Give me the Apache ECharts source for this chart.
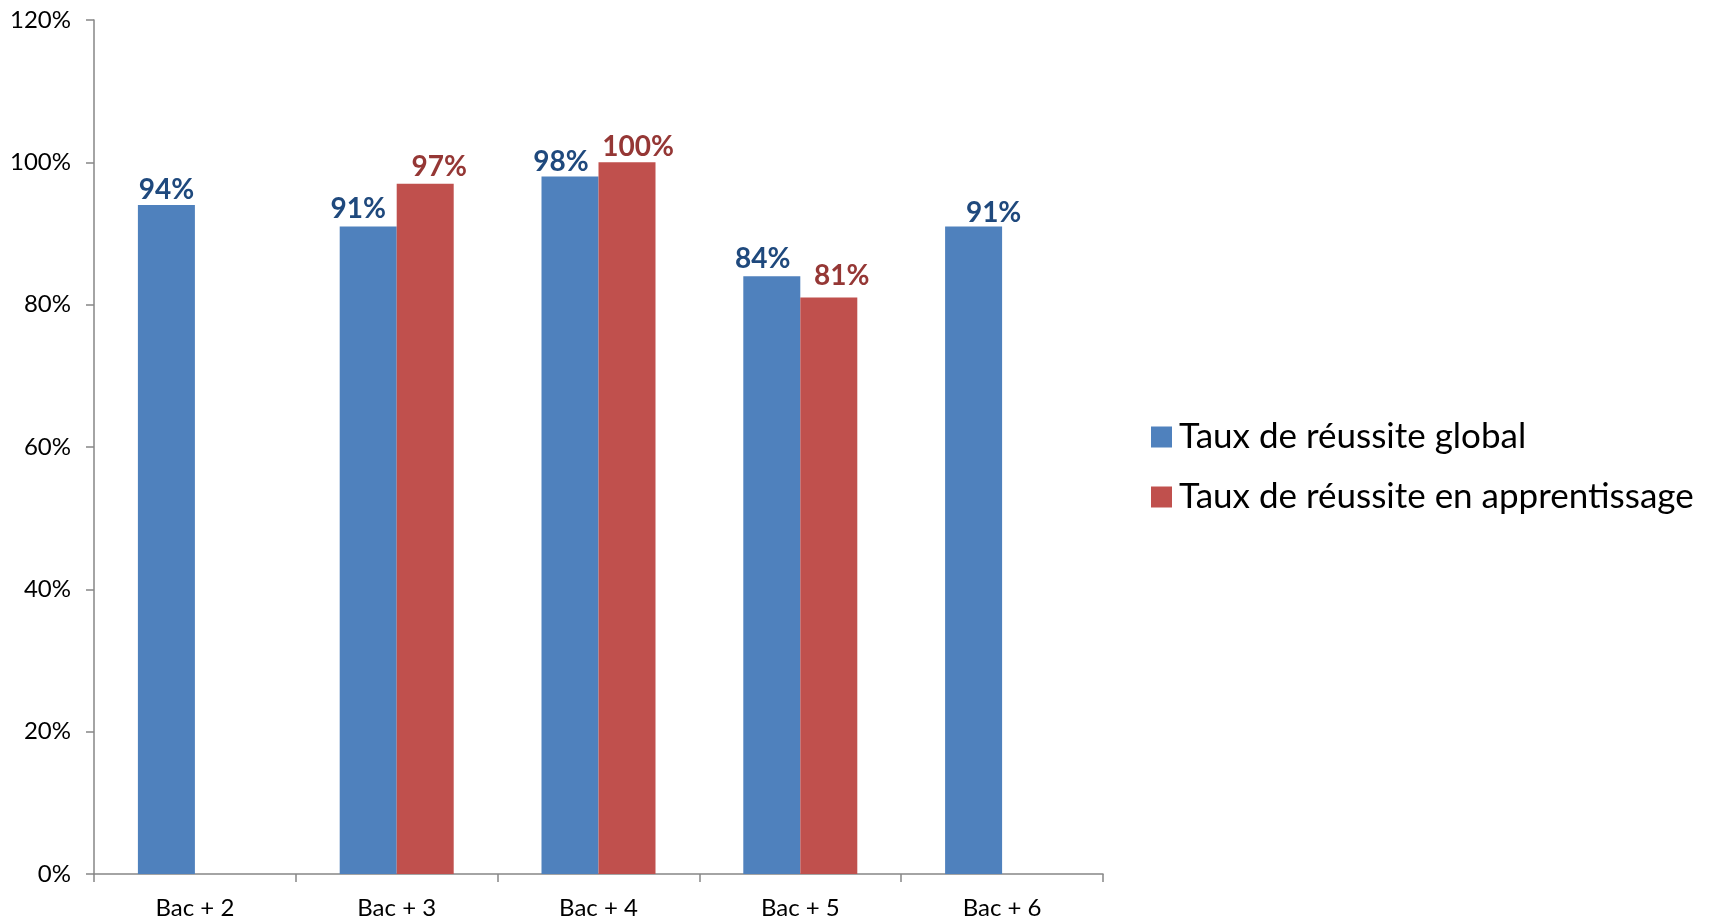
<!DOCTYPE html>
<html>
<head>
<meta charset="utf-8">
<script src="https://cdn.jsdelivr.net/npm/echarts@6/dist/echarts.min.js"></script>
<style>
html,body{margin:0;padding:0;background:#fff;}
#chart{width:1713px;height:920px;}
</style>
</head>
<body>
<div id="chart"></div>
<script>
const categories = ['Bac + 2', 'Bac + 3', 'Bac + 4', 'Bac + 5', 'Bac + 6'];
const seriesNames = ['Taux de réussite global', 'Taux de réussite en apprentissage'];
const globalRate = [94, 91, 98, 84, 91];
const apprenticeRate = [null, 97, 100, 81, null];
const yTicks = [0, 20, 40, 60, 80, 100, 120];

// label nudges [dx, dy] (style only)
const blueNudge = [[0, 0], [-10, -2], [-9, 0], [-9, -2], [20, 2]];
const redNudge = [[0, 0], [14, -2], [11, 0], [13, -7], [0, 0]];

const FONT = 'Lato, "Open Sans", sans-serif';

function mkData(vals, nudges) {
  return vals.map((v, i) => ({ value: v, label: { offset: nudges[i] } }));
}

const chart = echarts.init(document.getElementById('chart'), null, { renderer: 'canvas' });
chart.setOption({
  animation: false,
  backgroundColor: '#ffffff',
  grid: { left: 94, right: 610, top: 20, bottom: 42, containLabel: false },
  legend: {
    orient: 'vertical',
    left: 1146,
    top: 414,
    icon: 'rect',
    itemWidth: 21,
    itemHeight: 21,
    itemGap: 24,
    textStyle: { fontFamily: FONT, fontSize: 35, color: '#000', lineHeight: 36, padding: [0, 0, 0, 2] },
    data: seriesNames
  },
  xAxis: {
    type: 'category',
    data: categories,
    boundaryGap: true,
    axisLine: { lineStyle: { color: '#868686', width: 1.5 } },
    axisTick: { show: true, length: 8, lineStyle: { color: '#868686', width: 1.5 } },
    axisLabel: { fontFamily: FONT, fontSize: 24, color: '#000', margin: 22 }
  },
  yAxis: {
    type: 'value',
    min: yTicks[0],
    max: yTicks[yTicks.length - 1],
    interval: yTicks[1] - yTicks[0],
    splitLine: { show: false },
    axisLine: { show: true, lineStyle: { color: '#868686', width: 1.5 } },
    axisTick: { show: true, length: 8, lineStyle: { color: '#868686', width: 1.5 } },
    axisLabel: { fontFamily: FONT, fontSize: 24, color: '#000', margin: 23, formatter: '{value}%' }
  },
  series: [
    {
      name: seriesNames[0],
      type: 'bar',
      data: mkData(globalRate, blueNudge),
      barWidth: 57,
      barGap: '0%',
      itemStyle: { color: '#4F81BD' },
      label: {
        show: true, position: 'top', distance: 1,
        formatter: '{c}%',
        fontFamily: FONT, fontSize: 28, fontWeight: 'bold', color: '#1F497D'
      }
    },
    {
      name: seriesNames[1],
      type: 'bar',
      data: mkData(apprenticeRate, redNudge),
      barWidth: 57,
      barGap: '0%',
      itemStyle: { color: '#C0504D' },
      label: {
        show: true, position: 'top', distance: 1,
        formatter: '{c}%',
        fontFamily: FONT, fontSize: 28, fontWeight: 'bold', color: '#953735'
      }
    }
  ]
});
</script>
</body>
</html>
